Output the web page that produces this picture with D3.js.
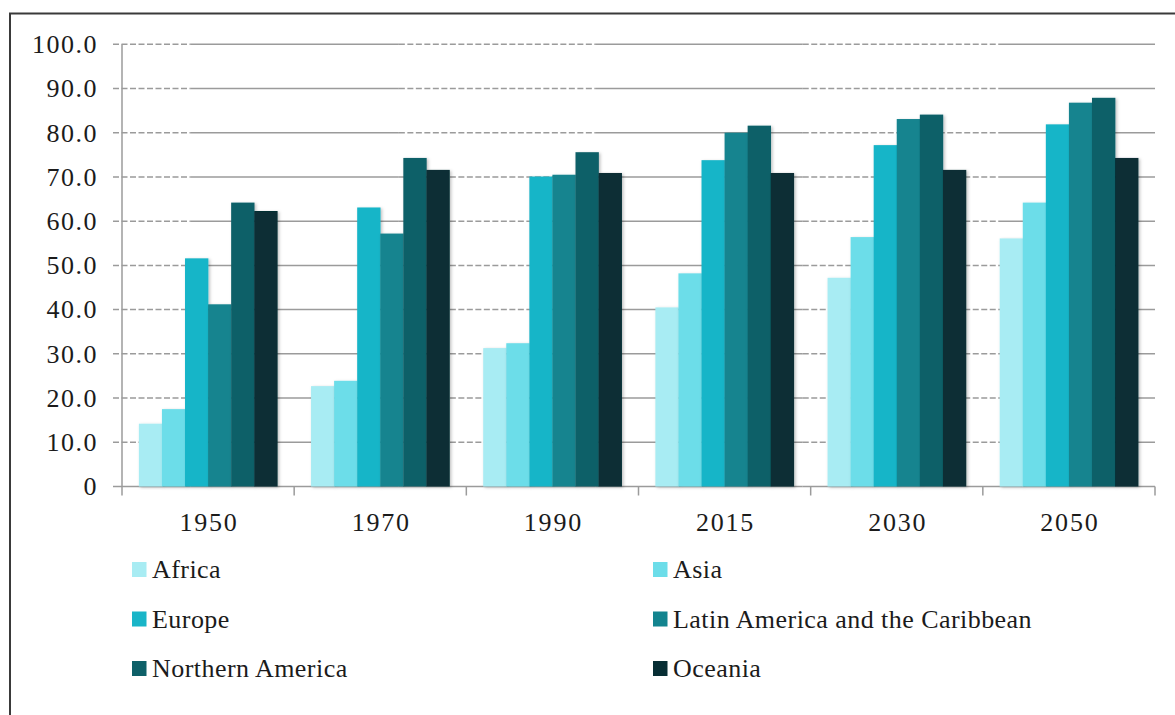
<!DOCTYPE html>
<html>
<head>
<meta charset="utf-8">
<script src="https://cdn.jsdelivr.net/npm/d3@7"></script>
<style>
  body { margin: 0; background: #fff; }
  svg text { font-family: "Liberation Serif", "DejaVu Serif", serif; fill: #1b1b1b; }
</style>
</head>
<body>
<div id="chart"></div>
<script>
// years on the x axis
var years = ["1950", "1970", "1990", "2015", "2030", "2050"];
// regions (series)
var regions = ["Africa", "Asia", "Europe", "Latin America and the Caribbean", "Northern America", "Oceania"];
var colors = ["#a8ecf3", "#6cdde9", "#19b5c8", "#13848f", "#0e6068", "#072e34"];

// percent urban, one array per region, in year order
var africa   = [14.2, 22.7, 31.3, 40.5, 47.2, 56.1];
var asia     = [17.5, 23.9, 32.4, 48.2, 56.4, 64.2];
var europe   = [51.6, 63.1, 70.1, 73.8, 77.2, 81.9];
var latam    = [41.2, 57.2, 70.5, 80.0, 83.1, 86.8];
var namerica = [64.2, 74.3, 75.6, 81.6, 84.1, 87.9];
var oceania  = [62.3, 71.6, 70.9, 70.9, 71.6, 74.3];
var series = [africa, asia, europe, latam, namerica, oceania];

var yTicks = [0, 10, 20, 30, 40, 50, 60, 70, 80, 90, 100];

var W = 1175, H = 715;
var margin = { top: 44.3, right: 20, bottom: 228.5, left: 122 };
var width = 1155 - margin.left, height = H - margin.top - margin.bottom;

var svg = d3.select("#chart").append("svg")
    .attr("width", W)
    .attr("height", H);

// frame (only top and left edges show in the picture)
svg.append("path")
    .attr("d", "M10," + H + " V13.5 H" + W)
    .attr("fill", "none")
    .attr("stroke", "#3a3a3a")
    .attr("stroke-width", 2);

var defs = svg.append("defs");
var f = defs.append("filter").attr("id", "shadow").attr("x", "-20%").attr("y", "-5%").attr("width", "140%").attr("height", "110%");
f.append("feDropShadow").attr("dx", 1.5).attr("dy", 1).attr("stdDeviation", 1.5).attr("flood-color", "#000").attr("flood-opacity", 0.25);

var g = svg.append("g").attr("transform", "translate(" + margin.left + "," + margin.top + ")");

var x = d3.scaleBand().domain(years).range([0, width]).paddingInner(0.196).paddingOuter(0.098);
var xOuter = d3.scaleBand().domain(years).range([0, width]);
var x1 = d3.scaleBand().domain(regions).range([0, x.bandwidth()]);
var y = d3.scaleLinear().domain([0, 100]).range([height, 0]);

// gridlines: source alternates dashed and solid stretches
var breaks = [-9, 0.066 * width, 0.268 * width, 0.458 * width, 0.659 * width, 0.849 * width, width];
yTicks.forEach(function(t) {
    for (var i = 0; i < breaks.length - 1; i++) {
        g.append("line")
            .attr("x1", breaks[i]).attr("x2", breaks[i + 1])
            .attr("y1", y(t)).attr("y2", y(t))
            .attr("stroke", "#9b9b9b")
            .attr("stroke-width", 1.5)
            .attr("stroke-dasharray", (i % 2 === 0 && t !== 0) ? "6,2.5" : null);
    }
});

// y axis line
g.append("line")
    .attr("x1", 0).attr("x2", 0)
    .attr("y1", 0).attr("y2", height + 9)
    .attr("stroke", "#9b9b9b").attr("stroke-width", 1.5);

// category separators below the axis
years.forEach(function(yr) {
    var xe = xOuter(yr) + xOuter.bandwidth();
    g.append("line")
        .attr("x1", xe).attr("x2", xe)
        .attr("y1", height).attr("y2", height + 9)
        .attr("stroke", "#9b9b9b").attr("stroke-width", 1.5);
});

// y labels
g.selectAll(".ylab").data(yTicks).enter().append("text")
    .attr("class", "ylab")
    .attr("x", -24)
    .attr("y", function(d) { return y(d); })
    .attr("dy", "0.34em")
    .attr("text-anchor", "end")
    .attr("font-size", "26px")
    .attr("letter-spacing", "1.5px")
    .text(function(d) { return d === 0 ? "0" : d.toFixed(1); });

// x labels
g.selectAll(".xlab").data(years).enter().append("text")
    .attr("class", "xlab")
    .attr("x", function(d) { return xOuter(d) + xOuter.bandwidth() / 2 + 1; })
    .attr("y", height + 45)
    .attr("text-anchor", "middle")
    .attr("font-size", "26px")
    .attr("letter-spacing", "1.8px")
    .text(function(d) { return d; });

// bars
var groups = g.selectAll(".yr").data(years).enter().append("g")
    .attr("class", "yr")
    .attr("transform", function(d) { return "translate(" + x(d) + ",0)"; });

groups.selectAll("rect")
    .data(function(yr, i) { return regions.map(function(r, j) { return { region: r, value: series[j][i], idx: j }; }); })
    .enter().append("rect")
    .attr("x", function(d) { return x1(d.region); })
    .attr("y", function(d) { return y(d.value); })
    .attr("width", x1.bandwidth() + 0.3)
    .attr("height", function(d) { return height - y(d.value); })
    .attr("fill", function(d) { return colors[d.idx]; })
    .attr("filter", "url(#shadow)");

// legend
var legX = [132, 653], legY = [569.5, 619, 668.5];
var leg = svg.selectAll(".leg").data(regions).enter().append("g")
    .attr("class", "leg")
    .attr("transform", function(d, i) { return "translate(" + legX[i % 2] + "," + legY[Math.floor(i / 2)] + ")"; });
leg.append("rect")
    .attr("x", 0).attr("y", -7.5)
    .attr("width", 14.5).attr("height", 15)
    .attr("fill", function(d, i) { return colors[i]; });
leg.append("text")
    .attr("x", 20)
    .attr("y", 0)
    .attr("dy", "0.33em")
    .attr("font-size", "26px")
    .attr("letter-spacing", "0.45px")
    .text(function(d) { return d; });
</script>
</body>
</html>
